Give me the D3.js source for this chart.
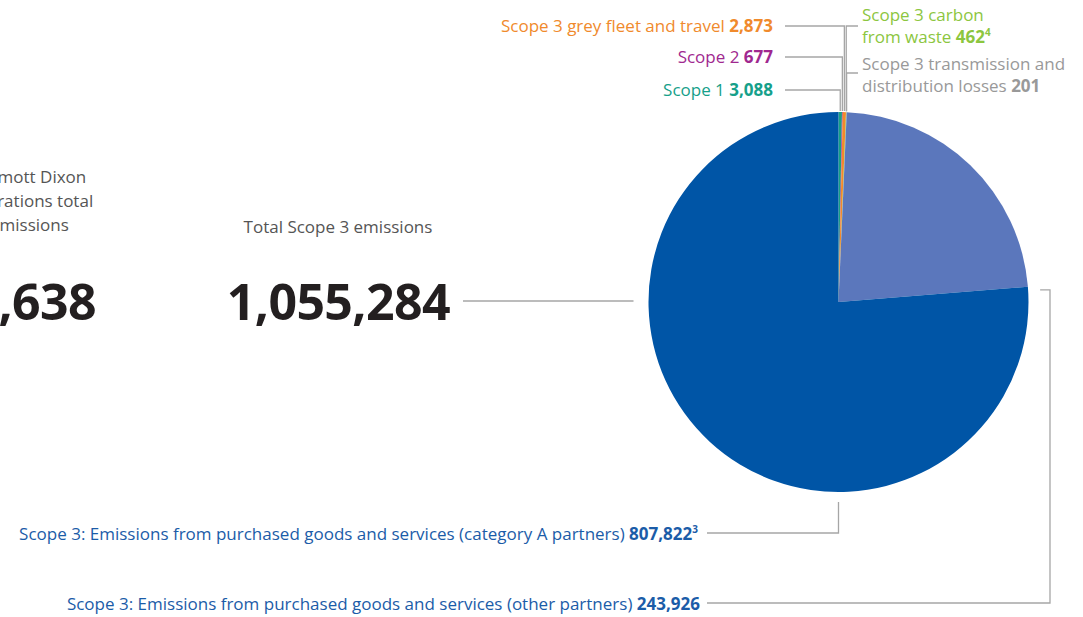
<!DOCTYPE html>
<html>
<head>
<meta charset="utf-8">
<script src="https://cdn.jsdelivr.net/npm/d3@7"></script>
<style>
  body { margin: 0; background: #fff; }
  svg { display: block; font-family: "Open Sans", sans-serif; }
</style>
</head>
<body>
<svg width="1083" height="617"></svg>
<script>
// slices, in clockwise order starting at 12 o'clock
var segments = ["Scope 1", "Scope 2", "Scope 3 grey fleet and travel", "Scope 3 carbon from waste",
  "Scope 3 transmission and distribution losses",
  "Scope 3: Emissions from purchased goods and services (other partners)",
  "Scope 3: Emissions from purchased goods and services (category A partners)"];
var values = [3088, 677, 2873, 462, 201, 243926, 807822];
var footnotes = ["", "", "", "4", "", "", "3"];
var sliceColors = ["#17a086", "#a3238e", "#f4892a", "#8cc63f", "#a0a0a0", "#5b77bc", "#0055a6"];
var textColors = ["#16a08a", "#a0288f", "#f08a2c", "#8cc63f", "#999999", "#1b5ca8", "#1b5ca8"];

// label text broken into lines (last line carries the value)
var labelLines = [
  ["Scope 1"], ["Scope 2"], ["Scope 3 grey fleet and travel"],
  ["Scope 3 carbon", "from waste"],
  ["Scope 3 transmission and", "distribution losses"],
  ["Scope 3: Emissions from purchased goods and services (other partners)"],
  ["Scope 3: Emissions from purchased goods and services (category A partners)"]
];

var totalLabel = "Total Scope 3 emissions";
var totalValue = 1055284;
var leftLines = ["Willmott Dixon", "operations total", "emissions"];
var leftValue = ",638";

var fmt = d3.format(",");
var svg = d3.select("svg");

var cx = 838.5, cy = 302, r = 190;

var pie = d3.pie().sort(null).value(function(d){ return d; }).startAngle(0).endAngle(2 * Math.PI);
var arcs = pie(values);
var arc = d3.arc().innerRadius(0).outerRadius(r);

var g = svg.append("g").attr("transform", "translate(" + cx + "," + cy + ")");
g.selectAll("path")
  .data(arcs)
  .enter().append("path")
  .attr("d", arc)
  .attr("fill", function(d, i){ return sliceColors[i]; });

// where each label sits: anchor x, baseline of first line, y of leader line, side
var layout = [
  {x: 773, y: 96, lineY: 90, side: "left"},
  {x: 773, y: 63, lineY: 57, side: "left"},
  {x: 773, y: 32, lineY: 26, side: "left"},
  {x: 862, y: 21, lineY: 26, side: "right"},
  {x: 862, y: 70, lineY: 73, side: "right"},
  {x: 700, y: 610, lineY: 603, side: "bottom"},
  {x: 698, y: 540, lineY: 533, side: "bottom"}
];

var lineColor = "#a6a6a6";
var leaders = svg.append("g").attr("fill", "none").attr("stroke", lineColor).attr("stroke-width", 1.3);

arcs.forEach(function(d, i) {
  var L = layout[i];
  var mid = (d.startAngle + d.endAngle) / 2;
  var pts;
  if (L.side === "left" || L.side === "right") {
    var px = cx + r * Math.sin(mid), py = cy - r * Math.cos(mid) - 1;
    var endX = L.side === "left" ? L.x + 12 : L.x - 4;
    pts = [[px, py], [px, L.lineY], [endX, L.lineY]];
  } else if (i === 6) {
    pts = [[cx, cy + r + 10], [cx, L.lineY], [L.x + 9, L.lineY]];
  } else {
    var a = d.endAngle + 0.02, rr = r + 12;
    var hx = cx + rr * Math.sin(a), hy = cy - rr * Math.cos(a);
    pts = [[hx, hy], [1050, hy], [1050, L.lineY], [L.x + 7, L.lineY]];
  }
  leaders.append("path").attr("d", d3.line()(pts));
});

// labels
var labels = svg.append("g").attr("font-size", 17);
arcs.forEach(function(d, i) {
  var L = layout[i];
  var lines = labelLines[i];
  var t = labels.append("text")
    .attr("fill", textColors[i])
    .attr("text-anchor", L.side === "right" ? "start" : "end");
  lines.forEach(function(line, j) {
    t.append("tspan").attr("x", L.x).attr("y", L.y + j * 21.5)
      .text(line + " ");
    if (j === lines.length - 1) {
      t.append("tspan").attr("font-weight", 700).text(fmt(values[i]));
      if (footnotes[i]) {
        t.append("tspan").attr("font-weight", 700).attr("font-size", 10)
          .attr("dy", -7).text(footnotes[i]);
      }
    }
  });
});

// total scope 3 block
svg.append("text").attr("x", 338).attr("y", 233).attr("text-anchor", "middle")
  .attr("font-size", 17).attr("fill", "#555").text(totalLabel);
svg.append("text").attr("x", 450).attr("y", 320).attr("text-anchor", "end")
  .attr("font-size", 50).attr("font-weight", 700).attr("fill", "#231f20")
  .attr("letter-spacing", -0.6).text(fmt(totalValue));
leaders.append("line").attr("x1", 463).attr("x2", cx - r - 15).attr("y1", 301).attr("y2", 301);

// left block, cut off by the page edge
var lt = svg.append("text").attr("font-size", 17).attr("fill", "#555");
leftLines.forEach(function(line, j) {
  lt.append("tspan").attr("x", j === 2 ? -10 : (j === 0 ? -31 : -33)).attr("y", 183 + j * 24).text(line);
});
svg.append("text").attr("x", 96).attr("y", 320).attr("text-anchor", "end")
  .attr("font-size", 50).attr("font-weight", 700).attr("fill", "#231f20")
  .attr("letter-spacing", -0.6).text(leftValue);
</script>
</body>
</html>
